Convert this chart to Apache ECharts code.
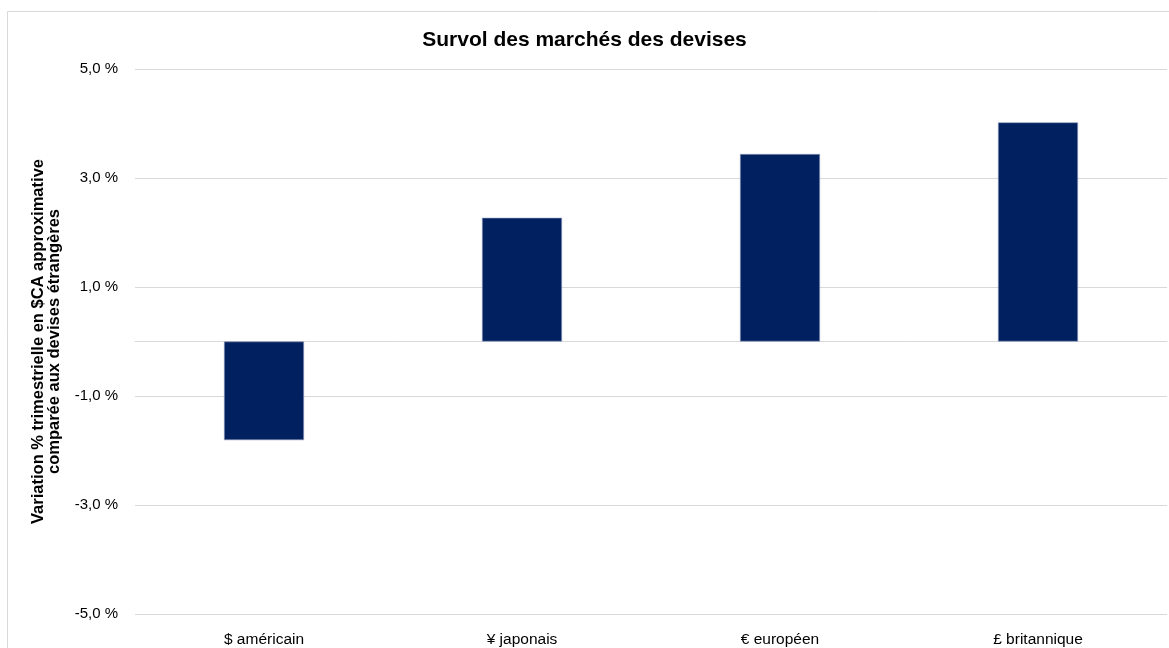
<!DOCTYPE html>
<html>
<head>
<meta charset="utf-8">
<script src="https://cdn.jsdelivr.net/npm/echarts@6/dist/echarts.min.js"></script>
<style>
  html, body { margin: 0; padding: 0; background: #fff; }
  #chart { width: 1169px; height: 648px; }
</style>
</head>
<body>
<div id="chart"></div>
<script>
// données
var categories = ['$ américain', '¥ japonais', '€ européen', '£ britannique'];
var values = [-1.81, 2.27, 3.44, 4.02];

var myChart = echarts.init(document.getElementById('chart'));

var option = {
    animation: false,
    backgroundColor: '#fff',
    textStyle: { fontFamily: 'Liberation Sans, Arial, sans-serif' },
    title: {
        text: 'Survol des marchés des devises',
        left: 'center',
        top: 25,
        textStyle: { fontSize: 21, fontWeight: 'bold', color: '#000' }
    },
    // cadre du graphique
    graphic: [{
        type: 'rect',
        shape: { x: 7.5, y: 11.5, width: 1200, height: 700 },
        style: { fill: 'none', stroke: '#d9d9d9', lineWidth: 1 },
        silent: true
    }],
    grid: { left: 135, right: 2, top: 69, bottom: 34 },
    xAxis: {
        type: 'category',
        data: categories,
        axisLine: { onZero: true, lineStyle: { color: '#d9d9d9' } },
        axisTick: { show: false },
        axisLabel: {
            position: 'bottom',
            color: '#000',
            fontSize: 15.5,
            margin: 18
        }
    },
    yAxis: {
        type: 'value',
        min: -5,
        max: 5,
        interval: 2,
        name: 'Variation % trimestrielle en $CA approximative\ncomparée aux devises étrangères',
        nameLocation: 'middle',
        nameGap: 73,
        nameTextStyle: { fontSize: 16.5, fontWeight: 'bold', color: '#000', lineHeight: 16 },
        axisLine: { show: false },
        axisTick: { show: false },
        axisLabel: {
            color: '#000',
            fontSize: 15,
            margin: 17,
            formatter: function (v) { return v.toFixed(1).replace('.', ',') + ' %'; }
        },
        splitLine: { lineStyle: { color: '#d9d9d9' } }
    },
    series: [{
        type: 'bar',
        data: values,
        barWidth: '31%',
        itemStyle: { color: '#002060', borderColor: '#8e9bb8', borderWidth: 0.6 }
    }]
};

myChart.setOption(option);
</script>
</body>
</html>
